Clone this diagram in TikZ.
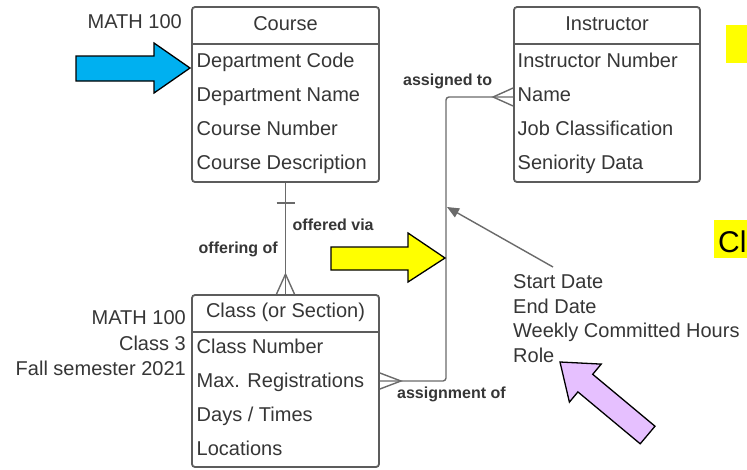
\documentclass[tikz,border=0pt]{standalone}
\usepackage{fontspec}
\setmainfont{Liberation Sans}
\usetikzlibrary{arrows.meta,calc}
\definecolor{txt}{HTML}{363636}
\definecolor{boxc}{HTML}{5C5C5C}
\definecolor{linec}{HTML}{6A6A6A}
\definecolor{blueA}{HTML}{00B0F0}
\definecolor{yelA}{HTML}{FFFF00}
\definecolor{purA}{HTML}{E6C0FF}
\begin{document}
\begin{tikzpicture}[x=1pt,y=-1pt,
  ent/.style={draw=boxc, line width=1.8pt, rounded corners=3pt, minimum width=187pt, minimum height=175pt, inner sep=0pt},
  attr/.style={anchor=base west, text=txt, font=\fontsize{20}{24}\selectfont, inner sep=0pt},
  note/.style={anchor=base east, text=txt, font=\fontsize{20}{24}\selectfont, inner sep=0pt},
  hdr/.style={anchor=base, text=txt, font=\fontsize{20}{24}\selectfont, inner sep=0pt},
  rel/.style={anchor=base west, text=txt, font=\bfseries\fontsize{16}{19}\selectfont, inner sep=0pt},
  sep/.style={draw=boxc, line width=1.6pt},
  conn/.style={draw=linec, line width=1.4pt},
  bigarrow/.style={draw=black, line width=1.3pt, line join=miter}]
\clip (0,0) rectangle (747,469);
\fill[white] (0,0) rectangle (747,469);

% ---------- entities ----------
\node[ent] (course) at (285.5,94.5) {};
\draw[sep] (192,44) -- (379,44);
\node[hdr] (courseH) at (285.5,30) {Course};
\node[attr] (c1) at (196.5,67) {Department Code};
\node[attr] (c2) at (196.5,101) {Department Name};
\node[attr] (c3) at (196.5,135) {Course Number};
\node[attr] (c4) at (196.5,169) {Course Description};
\node[note] (cnote) at (182,28) {MATH 100};

\node[ent, minimum width=186pt] (instr) at (607,94.5) {};
\draw[sep] (514,44) -- (700,44);
\node[hdr] (instrH) at (607,30) {Instructor};
\node[attr] (i1) at (517.5,67) {Instructor Number};
\node[attr] (i2) at (517.5,101) {Name};
\node[attr] (i3) at (517.5,135) {Job Classification};
\node[attr] (i4) at (517.5,169) {Seniority Data};

\node[ent, minimum height=172pt] (class) at (285.5,381) {};
\draw[sep] (192,332) -- (379,332);
\node[hdr] (classH) at (285.5,317) {Class (or Section)};
\node[attr] (k1) at (196.5,353) {Class Number};
\node[attr] (k2) at (196.5,387) {Max. Registrations};
\node[attr] (k3) at (196.5,421) {Days / Times};
\node[attr] (k4) at (196.5,455) {Locations};
\node[note] (n1) at (186,324) {MATH 100};
\node[note] (n2) at (186,350) {Class 3};
\node[note] (n3) at (186,375) {Fall semester 2021};

% ---------- course -- class ----------
\draw[conn] (course.south) -- (class.north);
\draw[conn] ($(course.south)+(-9,20)$) -- ++(18,0);
\draw[conn] ($(class.north)+(-9,0)$) -- ($(class.north)+(0,-20)$) -- ($(class.north)+(9,0)$);
\node[rel] (lab1) at (292.5,230) {offered via};
\node[rel, anchor=base east] (lab2) at (278,253) {offering of};

% ---------- class -- instructor ----------
\coordinate (cA) at (446,381);
\coordinate (cB) at (446,97);
\draw[conn, rounded corners=3pt] (class.east) -- (cA) -- (cB) -- (instr.west |- cB);
\draw[conn] ($(class.east)+(0,-8)$) -- ($(class.east)+(21,0)$) -- ($(class.east)+(0,8)$);
\draw[conn] ($(instr.west |- cB)+(0,-9)$) -- ($(instr.west |- cB)+(-20,0)$) -- ($(instr.west |- cB)+(0,9)$);
\node[rel] (lab3) at (403,85) {assigned to};
\node[rel] (lab4) at (397,398) {assignment of};

% ---------- association attributes ----------
\node[attr] (a1) at (513,288) {Start Date};
\node[attr] (a2) at (513,313) {End Date};
\node[attr] (a3) at (513,337) {Weekly Committed Hours};
\node[attr] (a4) at (513,362) {Role};
\coordinate (assocTail) at (553,267);
\coordinate (assocTip) at (447,207);
\draw[draw=linec, line width=1.4pt, -{Triangle[length=12pt,width=10pt,fill=linec]}] (assocTail) -- (assocTip);

% ---------- highlight arrows ----------
\draw[bigarrow, fill=blueA] (76,56) -- (154,56) -- (154,43) -- (190,68) -- (154,93) -- (154,81) -- (76,81) -- cycle;
\draw[bigarrow, fill=yelA] (331,247) -- (408,247) -- (408,233) -- (445,258) -- (408,282) -- (408,270) -- (331,270) -- cycle;
\draw[bigarrow, fill=purA] (560,362) -- (601.2,364.1) -- (592.7,374.3) -- (655,426.2) -- (640.2,443.8) -- (577.9,391.9) -- (569.4,402.1) -- cycle;

% ---------- yellow tags at right edge ----------
\fill[yelA] (726,25) rectangle (760,63);
\fill[yelA] (714,220) rectangle (760,258);
\node[anchor=base west, inner sep=0pt, font=\fontsize{30}{35}\selectfont, text=black] (cl) at (718,252) {Cl};
\end{tikzpicture}
\end{document}
